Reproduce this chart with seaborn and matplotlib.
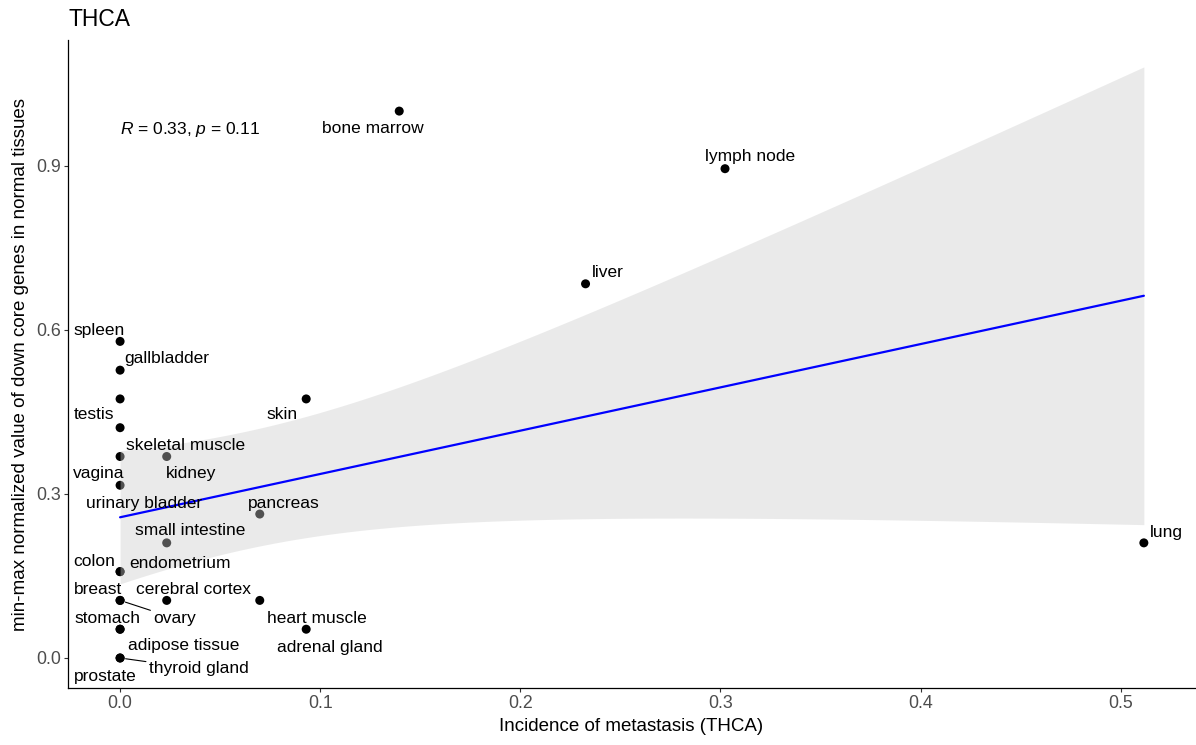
import numpy as np
import pandas as pd
import seaborn as sns
import matplotlib.pyplot as plt

# tissues, metastasis incidence (x) and normalized expression (y)
tissue = ['bone marrow', 'lymph node', 'liver', 'lung', 'skin',
          'spleen', 'gallbladder', 'testis', 'skeletal muscle', 'vagina',
          'kidney', 'urinary bladder', 'pancreas', 'small intestine', 'colon',
          'endometrium', 'breast', 'cerebral cortex', 'ovary', 'heart muscle',
          'stomach', 'adrenal gland', 'adipose tissue', 'thyroid gland', 'prostate']
incidence = [0.1395, 0.3023, 0.2326, 0.5116, 0.0930,
             0.0, 0.0, 0.0, 0.0, 0.0,
             0.0233, 0.0, 0.0698, 0.0233, 0.0,
             0.0, 0.0, 0.0233, 0.0, 0.0698,
             0.0, 0.0930, 0.0, 0.0, 0.0]
norm_value = [1.0, 0.8947, 0.6842, 0.2105, 0.4737,
              0.5789, 0.5263, 0.4737, 0.4211, 0.3684,
              0.3684, 0.3158, 0.2632, 0.2105, 0.1579,
              0.1579, 0.1053, 0.1053, 0.1053, 0.1053,
              0.0526, 0.0526, 0.0526, 0.0, 0.0]

x_ticks = [0.0, 0.1, 0.2, 0.3, 0.4, 0.5]
y_ticks = [0.0, 0.3, 0.6, 0.9]

# label placement (pixel offsets from the point), like ggrepel put them
label_offset = {
    'bone marrow': (-26, -17), 'lymph node': (25, 12), 'liver': (22, 11),
    'lung': (23, 10), 'skin': (-24, -16), 'spleen': (-21, 11),
    'gallbladder': (47, 12), 'testis': (-26, -16), 'skeletal muscle': (65, -18),
    'vagina': (-21, -17), 'kidney': (24, -17), 'urinary bladder': (24, -18),
    'pancreas': (24, 11), 'small intestine': (23, 12), 'colon': (-26, 10),
    'endometrium': (60, 8), 'breast': (-22, 11), 'cerebral cortex': (27, 11),
    'ovary': (55, -18), 'heart muscle': (57, -18), 'stomach': (-13, 11),
    'adrenal gland': (24, -18), 'adipose tissue': (64, -16),
    'thyroid gland': (79, -11), 'prostate': (-15, -19),
}
with_segment = {'ovary', 'thyroid gland'}

df = pd.DataFrame({'tissue': tissue, 'x': incidence, 'y': norm_value})

sns.set_style('ticks')
plt.rcParams['font.family'] = ['Liberation Sans', 'DejaVu Sans']
plt.rcParams['mathtext.fontset'] = 'custom'
plt.rcParams['mathtext.rm'] = 'Liberation Sans'
plt.rcParams['mathtext.it'] = 'Liberation Sans:italic'
plt.rcParams['text.color'] = 'black'
plt.rcParams['axes.labelcolor'] = 'black'

fig = plt.figure(figsize=(11.96, 7.45), dpi=100)
ax = fig.add_axes([0.0569, 0.0765, 0.942, 0.8698])

sns.scatterplot(data=df, x='x', y='y', color='black', s=42,
                edgecolor='none', zorder=2, ax=ax)

# 95% confidence band of the linear fit
xv = df['x'].to_numpy()
yv = df['y'].to_numpy()
n = len(xv)
slope, intercept = np.polyfit(xv, yv, 1)
resid = yv - (slope * xv + intercept)
s = np.sqrt(np.sum(resid ** 2) / (n - 2))
sxx = np.sum((xv - xv.mean()) ** 2)
xs = np.linspace(xv.min(), xv.max(), 100)
fit = slope * xs + intercept
se = s * np.sqrt(1 / n + (xs - xv.mean()) ** 2 / sxx)
t_crit = 2.069  # t quantile 0.975, df = 23
ax.fill_between(xs, fit - t_crit * se, fit + t_crit * se,
                color='#cccccc', alpha=0.4, linewidth=0, zorder=3)

sns.regplot(data=df, x='x', y='y', scatter=False, ci=None, ax=ax,
            line_kws=dict(color='blue', lw=1.6, zorder=4))

for _, row in df.iterrows():
    dx, dy = label_offset[row['tissue']]
    arrow = None
    if row['tissue'] in with_segment:
        arrow = dict(arrowstyle='-', color='black', lw=0.8,
                     shrinkA=0, shrinkB=4)
    ax.annotate(row['tissue'], (row['x'], row['y']), xytext=(dx, dy),
                textcoords='offset pixels', ha='center', va='center',
                fontsize=12.5, color='black', arrowprops=arrow, zorder=5)

ax.text(0.0, 0.967, r'$R$ = 0.33, $p$ = 0.11', fontsize=12.5,
        ha='left', va='center', color='black')

ax.set_xlim(-0.026, 0.537)
ax.set_ylim(-0.0549, 1.130)
ax.set_xticks(x_ticks)
ax.set_yticks(y_ticks)
ax.set_xticklabels([f'{v:.1f}' for v in x_ticks])
ax.set_yticklabels([f'{v:.1f}' for v in y_ticks])
ax.tick_params(axis='both', labelsize=12.8, labelcolor='#4d4d4d',
               color='#333333', length=3.2, width=0.8, pad=2)
sns.despine(ax=ax)
for side in ['left', 'bottom']:
    ax.spines[side].set_color('black')
    ax.spines[side].set_linewidth(0.9)

ax.set_xlabel('Incidence of metastasis (THCA)', fontsize=13.5, labelpad=4)
ax.set_ylabel('min-max normalized value of down core genes in normal tissues',
              fontsize=13.5, labelpad=5)
ax.set_title('THCA', loc='left', fontsize=16.5, pad=10, color='black')

fig.savefig('out.png', dpi=100)
